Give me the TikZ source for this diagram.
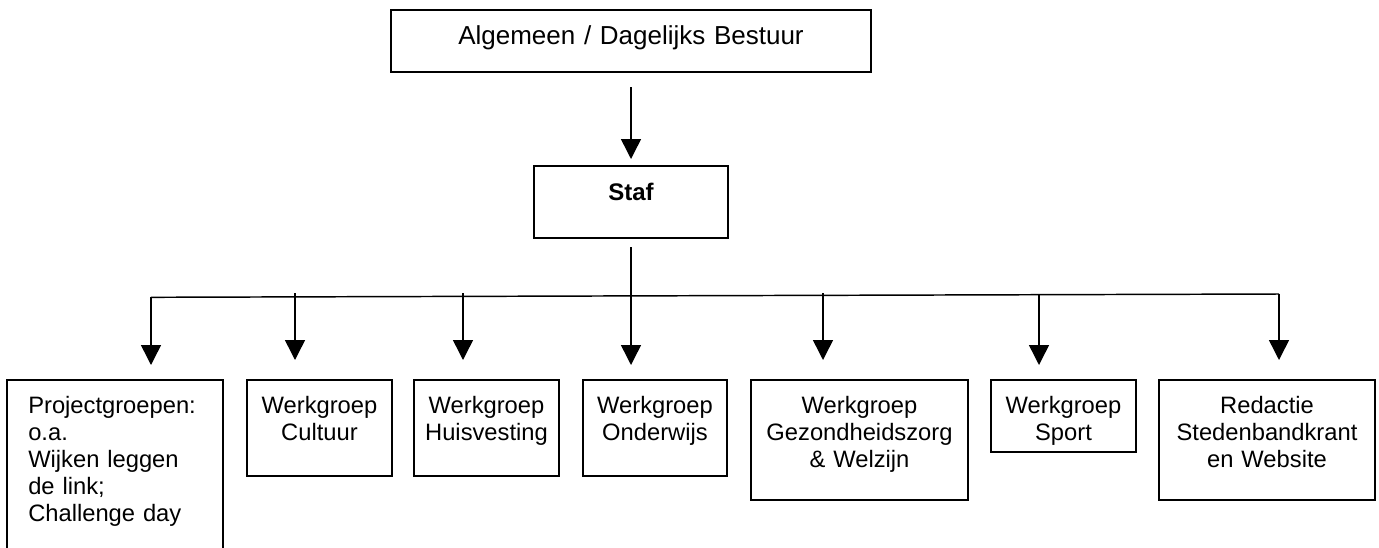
\documentclass[tikz,border=0pt]{standalone}
\usepackage{fontspec}
\setmainfont{Liberation Sans}
\usetikzlibrary{arrows.meta,fit}
\newcommand{\boxfont}{\fontsize{17.8}{20.25}\selectfont}
\newcommand{\topfont}{\fontsize{19.5}{22}\selectfont}
\tikzset{
  frame/.style={draw=black, line width=1.1pt, inner sep=0pt, rectangle},
  lbl/.style={text width=#1, align=center, anchor=base, inner sep=0pt, font=\boxfont},
  conn/.style={draw=black, line width=1.1pt},
  arr/.style={conn, -{Triangle[width=15pt,length=15pt]}}
}
\begin{document}
\begin{tikzpicture}[x=0.75pt,y=-0.75pt]
\useasboundingbox (0,0) rectangle (1379,547);
% boxes
\node[frame, fit={(391,10) (871,72)}] (top) {};
\node[frame, fit={(534,166) (728,238)}] (staf) {};
\node[frame, fit={(7,380) (223,570)}] (proj) {};
\node[frame, fit={(247,380) (392,476)}] (cult) {};
\node[frame, fit={(414,380) (559,476)}] (huis) {};
\node[frame, fit={(583,380) (727,476)}] (ond) {};
\node[frame, fit={(751,380) (968,500)}] (gez) {};
\node[frame, fit={(991,380) (1136,452)}] (sport) {};
\node[frame, fit={(1159,380) (1375,500)}] (red) {};
% texts
\node[lbl=400pt, font=\topfont] (toptxt) at (631,44) {Algemeen / Dagelijks Bestuur};
\node[lbl=100pt, font=\fontsize{18}{20.25}\selectfont\bfseries] (staftxt) at (631,200) {Staf};
\node[lbl=150pt, align=left, anchor=base west] (projtxt) at (28,413) {Projectgroepen:\\o.a.\\Wijken leggen\\de link;\\Challenge day};
\node[lbl=105pt] (culttxt) at (319.5,413) {Werkgroep\\Cultuur};
\node[lbl=105pt] (huistxt) at (486.5,413) {Werkgroep\\Huisvesting};
\node[lbl=105pt] (ondtxt) at (655,413) {Werkgroep\\Onderwijs};
\node[lbl=160pt] (geztxt) at (859.5,413) {Werkgroep\\Gezondheidszorg\\\&\ Welzijn};
\node[lbl=105pt] (sporttxt) at (1063.5,413) {Werkgroep\\Sport};
\node[lbl=160pt] (redtxt) at (1267,413) {Redactie\\Stedenbandkrant\\en Website};
% connector coordinates
\coordinate (topout) at (631,87);
\coordinate (stafin) at (631,159);
\coordinate (stafout) at (631,247);
\coordinate (busL) at (151,297.3);
\coordinate (busR) at (1279,294);
\coordinate (tproj) at (151,365);
\coordinate (scult) at (295,293);
\coordinate (tcult) at (295,360);
\coordinate (shuis) at (463,293);
\coordinate (thuis) at (463,360);
\coordinate (tond) at (631,365);
\coordinate (sgez) at (823,293);
\coordinate (tgez) at (823,360);
\coordinate (ssport) at (1039,294.7);
\coordinate (tsport) at (1039,365);
\coordinate (tred) at (1279,360);
% connectors
\draw[arr] (topout) -- (stafin);
\draw[conn] (busL) -- (busR);
\draw[arr] (busL) -- (tproj);
\draw[arr] (busR) -- (tred);
\draw[arr] (stafout) -- (tond);
\draw[arr] (scult) -- (tcult);
\draw[arr] (shuis) -- (thuis);
\draw[arr] (sgez) -- (tgez);
\draw[arr] (ssport) -- (tsport);
\end{tikzpicture}
\end{document}
